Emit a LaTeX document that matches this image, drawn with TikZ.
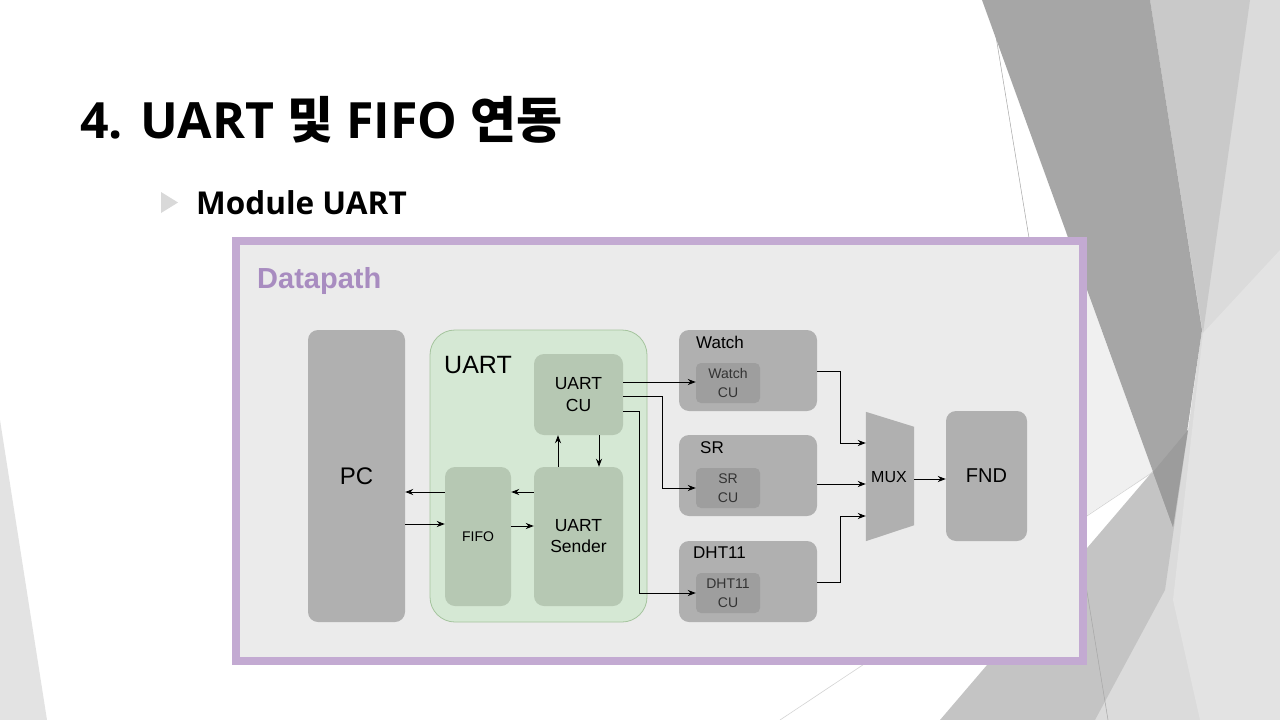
\documentclass[tikz,border=0pt]{standalone}
\usepackage{fontspec}
\usetikzlibrary{arrows.meta,calc}
\setmainfont{Liberation Sans}
\newfontfamily\opensans{Open Sans}
\newfontfamily\krbold{Noto Sans CJK KR Bold}

\definecolor{frameviolet}{HTML}{C3AAD2}
\definecolor{dpviolet}{HTML}{A88CC0}
\definecolor{panelbg}{HTML}{EBEBEB}
\definecolor{boxgray}{HTML}{B0B0B0}
\definecolor{cugray}{HTML}{9E9E9E}
\definecolor{uartfill}{HTML}{D5E8D4}
\definecolor{uartline}{HTML}{A5C49E}
\definecolor{greenbox}{HTML}{B6C8B3}

\tikzset{
  gbox/.style={fill=boxgray, draw=none, rounded corners=10pt, inner sep=0pt},
  cubox/.style={fill=cugray, draw=none, rounded corners=5pt, inner sep=0pt,
    minimum width=64pt, minimum height=40pt, align=center, text=black!80,
    font=\fontsize{14}{19}\selectfont},
  grbox/.style={fill=greenbox, draw=none, rounded corners=10pt, inner sep=0pt,
    align=center},
  lbl/.style={anchor=base west, inner sep=0pt, font=\fontsize{17}{20}\selectfont},
  arr/.style={draw=black, line width=0.9pt, -{Stealth[length=8pt,width=6pt]}},
}

\begin{document}
\begin{tikzpicture}[x=1pt,y=-1pt]
\useasboundingbox (0,0) rectangle (1280,720);
\fill[white] (0,0) rectangle (1280,720);

% faceted backdrop
\fill[black!11] (0,420) -- (47,720) -- (0,720) -- cycle;
\fill[black!14] (1150,0) -- (1280,0) -- (1280,720) -- (1090,720) -- (1188,430) -- (1202,330) -- cycle;
\fill[black!11] (1203,333) -- (1280,250) -- (1280,720) -- (1200,720) -- (1173,600) -- cycle;
\fill[black!21] (1150,0) -- (1250,0) -- (1203,333) -- cycle;
\fill[black!6] (1066,233) -- (1153,472) -- (1087,515) -- (1087,233) -- cycle;
\fill[black!23] (940,720) -- (1188,430) -- (1165,590) -- (1095,720) -- cycle;
\fill[black!35] (982,0) -- (1150,0) -- (1202,330) -- (1173,527) -- cycle;
\fill[black!39] (1153,472) -- (1188,430) -- (1173,527) -- cycle;
\draw[black!17, line width=0.6pt] (780,720) -- (1153,472);
\draw[black!35, line width=0.5pt] (990,0) -- (1108,720);

% heading
\node[anchor=base west, inner sep=0pt] (title) at (80,138)
  {\fontsize{50}{58}\selectfont\opensans\bfseries 4. UART {\krbold 및} FIFO {\krbold 연동}};
\fill[black!15] (161,192) -- (178,202.5) -- (161,213) -- cycle;
\node[anchor=base west, inner sep=0pt] (sub) at (196,214)
  {\fontsize{31.5}{38}\selectfont\opensans\bfseries Module UART};

% datapath panel
\draw[frameviolet, line width=7.5pt, fill=panelbg] (236,241) rectangle (1083,661);
\node[anchor=base west, inner sep=0pt, text=dpviolet,
  font=\fontsize{29}{34}\selectfont\bfseries] (dp) at (257,288) {Datapath};

% PC
\node[gbox, minimum width=97pt, minimum height=292pt,
  font=\fontsize{24}{28}\selectfont] (pc) at (356.5,476) {PC};

% UART block
\node[fill=uartfill, draw=uartline, line width=0.8pt, rounded corners=25pt,
  minimum width=217pt, minimum height=292pt, inner sep=0pt] (uart) at (538.5,476) {};
\node[anchor=base west, inner sep=0pt, font=\fontsize{25}{30}\selectfont]
  (uartlbl) at (444,373) {UART};
\node[grbox, minimum width=89pt, minimum height=81pt,
  font=\fontsize{17.5}{22}\selectfont] (cu) at (578.5,394.5) {UART\\CU};
\node[grbox, minimum width=66pt, minimum height=139pt,
  font=\fontsize{14}{17}\selectfont] (fifo) at (478,536.5) {FIFO};
\node[grbox, minimum width=89pt, minimum height=139pt,
  font=\fontsize{17.5}{21}\selectfont] (snd) at (578.5,536.5) {UART\\Sender};

% function blocks
\node[gbox, minimum width=138pt, minimum height=81pt] (watch) at (748,370.5) {};
\node[lbl] (watchlbl) at (696,348) {Watch};
\node[cubox] (wcu) at (728,383) {Watch\\CU};

\node[gbox, minimum width=138pt, minimum height=81pt] (sr) at (748,475.5) {};
\node[lbl] (srlbl) at (700,453) {SR};
\node[cubox] (srcu) at (728,488) {SR\\CU};

\node[gbox, minimum width=138pt, minimum height=81pt] (dht) at (748,581.5) {};
\node[lbl] (dhtlbl) at (693,558) {DHT11};
\node[cubox] (dcu) at (728,593) {DHT11\\CU};

% MUX and FND
\node[minimum width=48pt, minimum height=129pt, inner sep=0pt] (mux) at (890,476.5) {};
\fill[boxgray] (mux.north west) -- ($(mux.north east)+(0,15)$)
  -- ($(mux.south east)+(0,-16)$) -- (mux.south west) -- cycle;
\node[inner sep=0pt, font=\fontsize{16}{19}\selectfont] (muxlbl) at (889,477) {MUX};
\node[gbox, minimum width=81pt, minimum height=130pt,
  font=\fontsize{20}{24}\selectfont] (fnd) at (986.5,476) {FND};

% connections
\draw[arr] ($(fifo.west)+(0,-44.5)$) -- ($(pc.east)+(0,16)$);
\draw[arr] ($(pc.east)+(0,48)$) -- ($(fifo.west)+(0,-12.5)$);
\draw[arr] ($(snd.west)+(0,-44.5)$) -- ($(fifo.east)+(0,-44.5)$);
\draw[arr] ($(fifo.east)+(0,-10.5)$) -- ($(snd.west)+(0,-10.5)$);
\draw[arr] ($(snd.north)+(-20.5,0)$) -- ($(cu.south)+(-20.5,0)$);
\draw[arr] ($(cu.south)+(20.5,0)$) -- ($(snd.north)+(20.5,0)$);

\draw[arr] ($(cu.east)+(0,-12.5)$) -- ($(wcu.west)+(0,-1)$);
\draw[arr] ($(cu.east)+(0,1.5)$) -| ($(srcu.west)+(-33,0)$) -- (srcu.west);
\draw[arr] ($(cu.east)+(0,16.5)$) -| ($(dcu.west)+(-56,0)$) -- (dcu.west);

\draw[arr] ($(watch.east)+(0,0.5)$) -| ($(mux.west)+(-25,-33.5)$) -- ($(mux.west)+(0,-33.5)$);
\draw[arr] ($(sr.east)+(0,8.5)$) -- ($(mux.west)+(0,7.5)$);
\draw[arr] ($(dht.east)+(0,0.5)$) -| ($(mux.west)+(-25,39.5)$) -- ($(mux.west)+(0,39.5)$);
\draw[arr] ($(mux.east)+(0,2.5)$) -- ($(fnd.west)+(0,3)$);
\end{tikzpicture}
\end{document}
